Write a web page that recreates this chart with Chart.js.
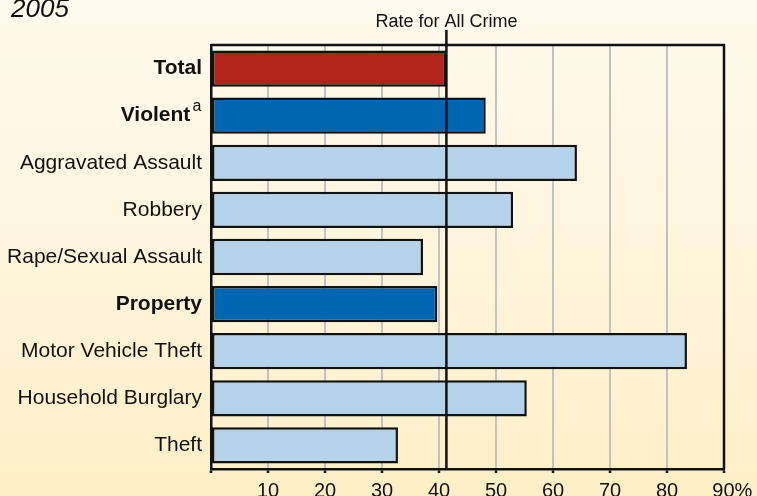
<!DOCTYPE html>
<html>
<head>
<meta charset="utf-8">
<script src="https://cdn.jsdelivr.net/npm/chart.js@4"></script>
<style>
  html, body { margin: 0; padding: 0; }
  body {
    width: 757px;
    height: 496px;
    overflow: hidden;
    background: linear-gradient(to bottom, #fefaee 0%, #fef5dc 50%, #feefc6 100%);
  }
  #crimeChart { display: block; }
</style>
</head>
<body>
<canvas id="crimeChart" width="757" height="496"></canvas>
<script>
// categories, top to bottom
const categories = [
  "Total",
  "Violent",
  "Aggravated Assault",
  "Robbery",
  "Rape/Sexual Assault",
  "Property",
  "Motor Vehicle Theft",
  "Household Burglary",
  "Theft",
];
// percent
const rates = [41.3, 48.2, 64.2, 53.0, 37.2, 39.7, 83.5, 55.4, 32.8];
const allCrimeRate = 41.3;
const boldRows = ["Total", "Violent", "Property"];
const xTicks = [0, 10, 20, 30, 40, 50, 60, 70, 80, 90];
const xTickLabels = ["", "10", "20", "30", "40", "50", "60", "70", "80", "90%"];

const FONT = "'Liberation Sans', Arial, Helvetica, sans-serif";

const barColors = categories.map((c) => {
  if (c === "Total") return "#b2241a";
  if (c === "Violent" || c === "Property") return "#0066b1";
  return "#b4d3eb";
});

// reference line, frame, superscript and year label
const extras = {
  id: "extras",
  afterDatasetsDraw(chart) {
    const { ctx, chartArea: a, scales } = chart;
    const x = scales.x.getPixelForValue(allCrimeRate);
    ctx.save();
    // frame on top and right
    ctx.strokeStyle = "#111";
    ctx.lineWidth = 2.5;
    ctx.beginPath();
    ctx.moveTo(a.left, a.top);
    ctx.lineTo(a.right, a.top);
    ctx.lineTo(a.right, a.bottom);
    ctx.stroke();
    // rate for all crime
    ctx.beginPath();
    ctx.moveTo(x, 30);
    ctx.lineTo(x, a.bottom);
    ctx.stroke();
    ctx.fillStyle = "#111";
    ctx.font = "18px " + FONT;
    ctx.textAlign = "center";
    ctx.textBaseline = "alphabetic";
    ctx.fillText("Rate for All Crime", x, 26.5);
    // superscript a after Violent
    const yv = scales.y.getPixelForValue(categories.indexOf("Violent"));
    ctx.font = "16px " + FONT;
    ctx.textAlign = "right";
    ctx.fillText("a", a.left - 9.5, yv - 4.5);
    // year
    ctx.font = "italic 26px " + FONT;
    ctx.textAlign = "left";
    ctx.fillText("2005", 11, 17);
    ctx.restore();
  },
};

const chart = new Chart(document.getElementById("crimeChart"), {
  type: "bar",
  data: {
    labels: categories,
    datasets: [
      {
        data: rates,
        backgroundColor: barColors,
        borderColor: "#111",
        borderWidth: 2.5,
        borderSkipped: false,
        barPercentage: 0.77,
        categoryPercentage: 1,
      },
    ],
  },
  options: {
    indexAxis: "y",
    responsive: false,
    animation: false,
    devicePixelRatio: 1,
    layout: {
      padding: { top: 45, right: 33, bottom: 0, left: 0 },
    },
    scales: {
      x: {
        type: "linear",
        min: 0,
        max: 90,
        afterFit: (s) => {
          s.height = 27;
          s.paddingLeft = 0;
          s.paddingRight = 0;
        },
        afterBuildTicks: (s) => { s.ticks = xTicks.map((v) => ({ value: v })); },
        ticks: {
          color: "#111",
          padding: 6,
          maxRotation: 0,
          autoSkip: false,
          font: { family: FONT, size: 20 },
          callback: (v) => {
            const lbl = xTickLabels[xTicks.indexOf(v)];
            return lbl === "90%" ? "   " + lbl : lbl;
          },
        },
        grid: {
          color: "#c2c2c2",
          lineWidth: 2,
          tickColor: "#111",
          tickLength: 4,
          tickWidth: 2.5,
        },
        border: { color: "#111", width: 2.5 },
      },
      y: {
        afterFit: (s) => {
          s.width = 211;
          s.paddingTop = 0;
          s.paddingBottom = 0;
        },
        ticks: {
          color: "#111",
          padding: 9,
          autoSkip: false,
          font: (c) => ({
            family: FONT,
            size: 21,
            weight: boldRows.includes(categories[c.index]) ? "bold" : "normal",
          }),
          callback: (v, i) => (categories[i] === "Violent" ? "Violent  " : categories[i]),
        },
        grid: { display: false, drawTicks: false },
        border: { color: "#111", width: 2.5 },
      },
    },
    plugins: {
      legend: { display: false },
      tooltip: { enabled: false },
    },
  },
  plugins: [extras],
});
</script>
</body>
</html>
